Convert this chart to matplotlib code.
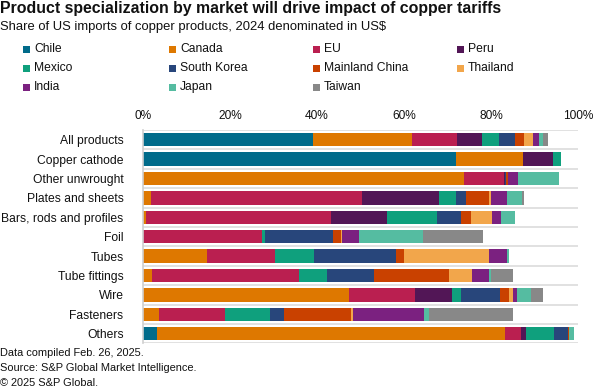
import matplotlib
matplotlib.use("Agg")
import matplotlib.pyplot as plt
from matplotlib.patches import Rectangle

plt.rcParams['font.family'] = ['Liberation Sans', 'DejaVu Sans']

## rows of the chart, top to bottom
categories = ["All products", "Copper cathode", "Other unwrought", "Plates and sheets",
              "Bars, rods and profiles", "Foil", "Tubes", "Tube fittings", "Wire",
              "Fasteners", "Others"]

## share of US imports (%) per market, one value per category
chile       = [39.1, 72.0, 0.0, 0.0, 0.0, 0.0, 0.0, 0.0, 0.0, 0.0, 3.3]
canada      = [22.7, 15.3, 73.8, 1.8, 0.7, 0.0, 14.8, 2.0, 47.4, 3.7, 79.9]
eu          = [10.3, 0.1, 9.3, 48.5, 42.5, 27.4, 15.5, 33.9, 15.1, 15.1, 3.7]
peru        = [5.8, 6.8, 0.1, 17.7, 13.0, 0.0, 0.0, 0.0, 8.5, 0.0, 1.1]
mexico      = [3.9, 1.8, 0.1, 4.0, 11.5, 0.6, 8.9, 6.4, 2.0, 10.3, 6.5]
south_korea = [3.7, 0.0, 0.2, 2.3, 5.4, 15.6, 18.9, 10.8, 9.1, 3.3, 3.3]
china       = [2.0, 0.0, 0.4, 5.3, 2.3, 2.0, 2.0, 17.3, 2.1, 15.5, 0.2]
thailand    = [2.1, 0.1, 0.1, 0.3, 4.8, 0.2, 19.4, 5.3, 0.9, 0.4, 0.0]
india       = [1.4, 0.0, 2.1, 3.7, 2.2, 3.9, 4.2, 3.8, 0.8, 16.2, 0.0]
japan       = [1.0, 0.0, 9.5, 3.6, 3.2, 14.7, 0.5, 0.5, 3.2, 1.2, 1.0]
taiwan      = [1.2, 0.0, 0.0, 0.4, 0.0, 13.8, 0.0, 5.1, 2.9, 19.4, 0.0]

markets = ["Chile", "Canada", "EU", "Peru", "Mexico", "South Korea", "Mainland China",
           "Thailand", "India", "Japan", "Taiwan"]
series = [chile, canada, eu, peru, mexico, south_korea, china, thailand, india, japan, taiwan]
colors = ["#006B8A", "#DE7800", "#BA1F50", "#521656", "#0FA07D", "#28467B", "#C94100",
          "#F2A64B", "#7B2180", "#55BCA1", "#888888"]

xticks = [0, 20, 40, 60, 80, 100]
xtick_labels = ["0%", "20%", "40%", "60%", "80%", "100%"]


def draw_bars(ax):
    rows = list(range(len(categories)))
    left = [0.0] * len(categories)
    for name, vals, col in zip(markets, series, colors):
        ax.barh(rows, vals, left=left, height=0.69, color=col, label=name, linewidth=0)
        left = [a + b for a, b in zip(left, vals)]
    # light separators between the rows
    for b in range(len(categories) + 1):
        ax.axhline(b - 0.5, color="#dcdcdc", lw=1.2, zorder=0)
    ax.set_ylim(len(categories) - 0.5, -0.5)
    ax.set_xlim(0, 100)
    ax.set_yticks(rows)
    ax.set_yticklabels(categories, fontsize=8.7, color="#111111")
    ax.set_xticks(xticks)
    ax.set_xticklabels(xtick_labels, fontsize=8.6, color="#111111")
    ax.xaxis.tick_top()
    ax.tick_params(axis="both", length=0)
    ax.tick_params(axis="y", pad=14)
    ax.tick_params(axis="x", pad=6)
    for s in ["top", "right", "bottom"]:
        ax.spines[s].set_visible(False)
    ax.spines["left"].set_color("#cfcfcf")
    ax.spines["left"].set_linewidth(1.2)


def draw_legend(fig):
    # legend laid out row by row, 4 columns
    col_x = [23, 169, 313, 457]
    row_y = [49, 68, 87]
    W, H = 600.0, 391.0
    for i, (name, col) in enumerate(zip(markets, colors)):
        x = col_x[i % 4]
        y = row_y[i // 4]
        fig.add_artist(Rectangle((x / W, 1 - (y + 3.5) / H), 7 / W, 7 / H,
                                 transform=fig.transFigure, color=col, lw=0))
        fig.text((x + 11) / W, 1 - y / H, name, fontsize=8.7, va="center", ha="left",
                 color="#111111")


def main():
    fig = plt.figure(figsize=(6, 3.91), dpi=100)
    ax = fig.add_axes([143 / 600, 1 - 343.3 / 391, 435 / 600, 213.3 / 391])
    draw_bars(ax)
    draw_legend(fig)

    fig.text(0.0, 1 - 9 / 391, "Product specialization by market will drive impact of copper tariffs",
             fontsize=11.4, fontweight="bold", va="center", ha="left", color="#111111")
    fig.text(0.0, 1 - 27 / 391, "Share of US imports of copper products, 2024 denominated in US$",
             fontsize=9.4, va="center", ha="left", color="#111111")

    foot = ["Data compiled Feb. 26, 2025.", "Source: S&P Global Market Intelligence.",
            "\u00a9 2025 S&P Global."]
    for txt, y in zip(foot, [353, 368, 383]):
        fig.text(0.0, 1 - y / 391, txt, fontsize=7.9, va="center", ha="left", color="#111111")

    fig.savefig("out.png", dpi=100)


if __name__ == "__main__":
    main()
